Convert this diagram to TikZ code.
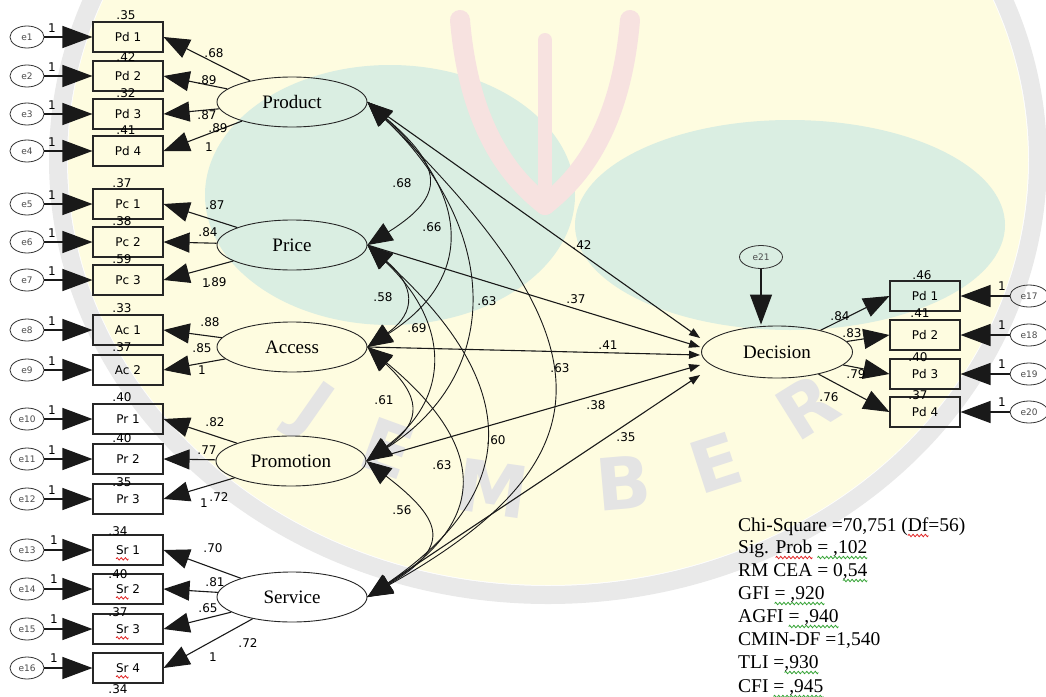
\documentclass[tikz,border=0pt]{standalone}
\usepackage{fontspec}
\setmainfont{Liberation Serif}
\newfontfamily\tah{DejaVu Sans}
\usetikzlibrary{arrows.meta,shapes.geometric,calc}
\definecolor{bgyel}{HTML}{FEFCE0}
\definecolor{bgmint}{HTML}{DAEEE2}
\definecolor{bggrey}{HTML}{E4E4E4}
\definecolor{bgpink}{HTML}{F7E2E0}
\definecolor{wred}{HTML}{E02020}
\definecolor{wgreen}{HTML}{2EA02E}
\newsavebox\wvbox
\newcommand\wv[2]{\leavevmode\sbox\wvbox{#2}\rlap{\raisebox{-4.5pt}[0pt][0pt]{\hbox to \wd\wvbox{\xleaders\hbox{\tikz[baseline=0pt,x=1pt,y=1pt]{\useasboundingbox (0,-1.3) rectangle (4,1.3);\draw[#1,line width=0.8pt] (0,0) sin (1,1.2) cos (2,0) sin (3,-1.2) cos (4,0);}}\hfil}}}\usebox\wvbox}
\begin{document}
\begin{tikzpicture}[x=1pt,y=-1pt,
  lat/.style={ellipse,draw=black!85,line width=0.9pt,minimum width=150pt,minimum height=50pt,inner sep=0pt,font=\fontsize{19}{21}\selectfont},
  obs/.style={rectangle,draw=black!85,line width=1.1pt,minimum width=70pt,minimum height=30pt,inner sep=0pt,font=\tah\fontsize{12}{14}\selectfont},
  err/.style={ellipse,draw=black!80,line width=0.8pt,minimum width=34pt,minimum height=22pt,inner sep=0pt,font=\tah\fontsize{9}{10}\selectfont,text=black!70},
  num/.style={font=\tah\fontsize{12}{13}\selectfont,inner sep=0pt},
  ea/.style={draw=black!90,line width=1.2pt,-{Triangle[length=30pt,width=22pt]}},
  ld/.style={draw=black!90,line width=1.1pt,-{Triangle[length=26pt,width=20pt]}},
  corr/.style={draw=black!90,line width=0.9pt,{Triangle[length=25pt,width=20pt]}-{Triangle[length=25pt,width=20pt]}},
  reg/.style={draw=black!90,line width=1.1pt,-{Triangle[length=11pt,width=8pt]}},
  stat/.style={anchor=base west,inner sep=0pt,font=\fontsize{19.5}{21}\selectfont},
  wm/.style={text=bggrey,inner sep=0pt,font=\tah\bfseries\fontsize{72}{72}\selectfont},
]
\useasboundingbox (0,0) rectangle (1046,696);
% ---------- watermark background ----------
\begin{scope}
\clip (0,0) rectangle (1046,696);
\fill[white] (0,0) rectangle (1046,696);
\fill[bgyel] (548,160) ellipse [x radius=480, y radius=425];
\draw[bggrey!80, line width=18] (548,160) ellipse [x radius=490, y radius=435];
\fill[bgmint] (390,195) ellipse [x radius=185, y radius=130];
\fill[bgmint] (790,225) ellipse [x radius=215, y radius=105];
\draw[bgpink, line width=20, line cap=round] (460,20) .. controls (470,140) and (520,185) .. (545,205);
\draw[bgpink, line width=20, line cap=round] (630,20) .. controls (620,140) and (570,185) .. (545,205);
\draw[bgpink, line width=14, line cap=round] (545,40) -- (545,185);
\node[wm, rotate=-35] (wmJ) at (310,413) {J};
\node[wm, rotate=-20] (wmE) at (388,448) {E};
\node[wm, rotate=-8] (wmM) at (493,488) {M};
\node[wm, rotate=5] (wmB) at (624,483) {B};
\node[wm, rotate=18] (wmE2) at (716,463) {E};
\node[wm, rotate=32] (wmR) at (807,407) {R};
\end{scope}
% ---------- latent variables ----------
\node[lat] (prod) at (292,102) {Product};
\node[lat] (price) at (292,245) {Price};
\node[lat] (acc) at (292,347) {Access};
\node[lat] (promo) at (291,461) {Promotion};
\node[lat] (serv) at (292,597) {Service};
\node[lat,minimum width=151pt,minimum height=52pt] (dec) at (777,352) {Decision};
\node[err,minimum width=43pt,minimum height=23pt] (e21) at (761,257) {e21};
% ---------- left indicators ----------
\foreach \i/\y/\t in {1/37/Pd 1,2/76/Pd 2,3/114/Pd 3,4/151/Pd 4,5/204/Pc 1,6/242/Pc 2,7/280/Pc 3,8/330/Ac 1,9/370/Ac 2,10/419/Pr 1,11/459/Pr 2,12/499/Pr 3}{
  \node[err] (e\i) at (27,\y) {e\i};
  \node[obs] (x\i) at (128,\y) {\t};
  \draw[ea] (e\i) -- (x\i);
  \node[num] (one\i) at (52,\y-9) {1};
}
\foreach \i/\y/\t in {13/550/1,14/589/2,15/629/3,16/668/4}{
  \node[err] (e\i) at (27,\y) {e\i};
  \node[obs] (x\i) at (128,\y) {\wv{wred}{Sr} \t};
  \draw[ea] (e\i) -- (x\i);
  \node[num] (one\i) at (54,\y-10) {1};
}
% variances of left indicators
\node[num] (v1) at (126,15) {.35};
\node[num] (v2) at (126,57) {.42};
\node[num] (v3) at (126,93) {.32};
\node[num] (v4) at (126,130) {.41};
\node[num] (v5) at (122,183) {.37};
\node[num] (v6) at (122,221) {.38};
\node[num] (v7) at (122,259) {.59};
\node[num] (v8) at (122,308) {.33};
\node[num] (v9) at (122,347) {.37};
\node[num] (v10) at (122,397) {.40};
\node[num] (v11) at (122,438) {.40};
\node[num] (v12) at (122,482) {.35};
\node[num] (v13) at (118,531) {.34};
\node[num] (v14) at (118,574) {.40};
\node[num] (v15) at (118,612) {.37};
\node[num] (v16) at (118,689) {.34};
% loadings
\foreach \a/\b in {prod/x1,prod/x2,prod/x3,prod/x4,price/x5,price/x6,price/x7,acc/x8,acc/x9,promo/x10,promo/x11,promo/x12,serv/x13,serv/x14,serv/x15,serv/x16}{
  \draw[ld] (\a) -- (\b.east);
}
\node[num] (l1) at (214,53) {.68};
\node[num] (l2) at (207,80) {.89};
\node[num] (l3) at (207,115) {.87};
\node[num] (l4) at (218,128) {.89};
\node[num] (l4a) at (209,147) {1};
\node[num] (l5) at (215,205) {.87};
\node[num] (l6) at (208,232) {.84};
\node[num] (l7a) at (206,283) {1};
\node[num] (l7) at (217,282) {.89};
\node[num] (l8) at (210,322) {.88};
\node[num] (l9) at (202,348) {.85};
\node[num] (l9a) at (202,370) {1};
\node[num] (l10) at (215,422) {.82};
\node[num] (l11) at (207,450) {.77};
\node[num] (l12a) at (204,503) {1};
\node[num] (l12) at (219,497) {.72};
\node[num] (l13) at (213,548) {.70};
\node[num] (l14) at (215,582) {.81};
\node[num] (l15) at (208,608) {.65};
\node[num] (l16) at (248,643) {.72};
\node[num] (l16a) at (213,657) {1};
% ---------- correlations ----------
\draw[corr] (prod.east) .. controls +(75,65) and +(80,-50) .. (price.east);
\draw[corr] (prod.east) .. controls +(100,90) and +(110,-70) .. (acc.east);
\draw[corr] (prod.east) .. controls +(130,125) and +(140,-90) .. (promo.east);
\draw[corr] (prod.east) .. controls +(240,235) and +(250,-140) .. (serv.east);
\draw[corr] (price.east) .. controls +(47,40) and +(50,-35) .. (acc.east);
\draw[corr] (price.east) .. controls +(80,75) and +(88,-65) .. (promo.east);
\draw[corr] (price.east) .. controls +(150,135) and +(160,-110) .. (serv.east);
\draw[corr] (acc.east) .. controls +(52,48) and +(58,-40) .. (promo.east);
\draw[corr] (acc.east) .. controls +(115,95) and +(127,-80) .. (serv.east);
\draw[corr] (promo.east) .. controls +(78,60) and +(84,-50) .. (serv.east);
\node[num] (c1) at (402,183) {.68};
\node[num] (c2) at (432,227) {.66};
\node[num] (c3) at (383,297) {.58};
\node[num] (c4) at (417,328) {.69};
\node[num] (c5) at (487,301) {.63};
\node[num] (c6) at (560,368) {.63};
\node[num] (c7) at (384,400) {.61};
\node[num] (c8) at (496,440) {.60};
\node[num] (c9) at (442,465) {.63};
\node[num] (c10) at (402,510) {.56};
% ---------- structural paths ----------
\coordinate (d1) at ($(dec.west)+(-1,-14)$);
\coordinate (d2) at ($(dec.west)+(-1,-5)$);
\coordinate (d3) at ($(dec.west)+(-1,3)$);
\coordinate (d4) at ($(dec.west)+(-1,13)$);
\coordinate (d5) at ($(dec.west)+(-1,23)$);
\draw[reg] (prod.east) -- (d1);
\draw[reg] (price.east) -- (d2);
\draw[reg] (acc.east) -- (d3);
\draw[reg] (promo.east) -- (d4);
\draw[reg] (serv.east) -- (d5);
\node[num] (p1) at (582,245) {.42};
\node[num] (p2) at (576,299) {.37};
\node[num] (p3) at (608,345) {.41};
\node[num] (p4) at (596,405) {.38};
\node[num] (p5) at (626,437) {.35};
\coordinate (dtop) at (e21 |- dec.north);
\draw[ea] (e21) -- ([yshift=1pt]dtop);
% ---------- right indicators ----------
\foreach \i/\y/\t in {17/296/Pd 1,18/335/Pd 2,19/374/Pd 3,20/412/Pd 4}{
  \node[obs] (x\i) at (925,\y) {\t};
  \node[err,minimum width=38pt] (e\i) at (1029,\y) {e\i};
  \draw[ea] (e\i) -- (x\i.east);
  \draw[ld] (dec) -- (x\i.west);
  \node[num] (one\i) at (1002,\y-10) {1};
}
\node[num] (v17) at (922,275) {.46};
\node[num] (v18) at (920,313) {.41};
\node[num] (v19) at (918,357) {.40};
\node[num] (v20) at (918,395) {.37};
\node[num] (l17) at (840,316) {.84};
\node[num] (l18) at (852,333) {.83};
\node[num] (l19) at (856,374) {.79};
\node[num] (l20) at (829,397) {.76};
% ---------- fit statistics ----------
\node[stat] (s1) at (738,531) {Chi-Square =70,751 (\wv{wred}{Df}=56)};
\node[stat] (s2) at (738,553) {Sig. \wv{wred}{Prob} \wv{wgreen}{= ,102}};
\node[stat] (s3) at (738,576) {RM CEA = 0\wv{wgreen}{,54}};
\node[stat] (s4) at (738,599) {GFI \wv{wgreen}{= ,920}};
\node[stat] (s5) at (738,622) {AGFI \wv{wgreen}{= ,940}};
\node[stat] (s6) at (738,645) {CMIN-DF =1,540};
\node[stat] (s7) at (738,668) {TLI =\wv{wgreen}{,930}};
\node[stat] (s8) at (738,692) {CFI \wv{wgreen}{= ,945}};
\end{tikzpicture}
\end{document}
